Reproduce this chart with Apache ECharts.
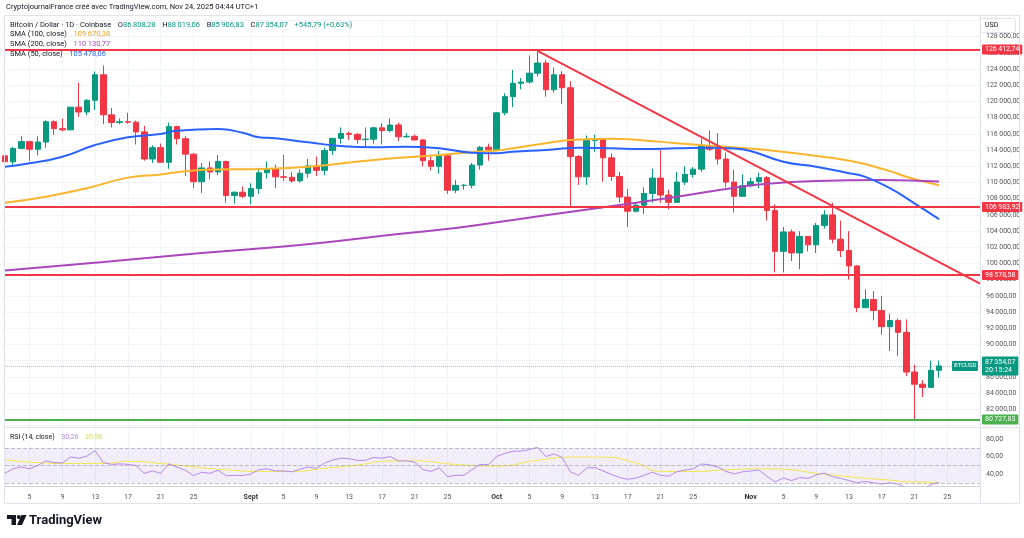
<!DOCTYPE html>
<html>
<head>
<meta charset="utf-8">
<script src="https://cdn.jsdelivr.net/npm/echarts@6/dist/echarts.min.js"></script>
<style>
html, body { margin: 0; padding: 0; background: #fff; }
#chart { width: 1024px; height: 538px; }
</style>
</head>
<body>
<div id="chart"></div>
<script>
// BTC/USD daily, Coinbase, 2 Aug -> 24 Nov 2025 : [open, high, low, close]
var ohlc = [
  [113300,114000,112000,112550],[112550,114400,112100,114200],[114200,115700,114100,115050],[115050,115100,112650,114100],
  [114100,115700,113350,115000],[115000,117700,114300,117500],[117500,117700,115900,116650],[116650,117900,116300,116500],
  [116500,119300,116500,119300],[119300,122300,118100,118700],[118700,120300,118300,120150],[120150,123700,118950,123300],
  [123300,124450,117200,118350],[118350,119200,116800,117400],[117400,117900,117200,117500],[117500,118600,117250,117450],
  [117450,117650,114700,116250],[116250,117000,112700,112900],[112900,114600,112400,114300],[114300,114800,112600,112500],
  [112500,117400,111700,116900],[116900,117000,114700,115400],[115400,115700,110800,113500],[113500,113600,109300,110100],
  [110100,112400,108700,111800],[111800,112600,110400,111300],[111300,113400,110900,112600],[112600,112700,107500,108400],
  [108400,108900,107400,108800],[108800,109500,108100,108300],
  // Sept
  [108300,109900,107300,109250],[109250,111800,108600,111200],[111200,112600,110500,111700],[111700,112200,109300,110700],
  [110700,113400,110200,110650],[110650,111300,110000,110200],[110200,111600,110000,111150],[111150,112900,110600,112050],
  [112050,113200,110800,111500],[111500,114300,110900,113950],[113950,115500,113400,115450],[115450,116800,114800,116050],
  [116050,116300,115250,115950],[115950,116100,114800,115300],[115300,116800,114400,115350],[115350,116900,114800,116750],
  [116750,117300,114700,116400],[116400,117900,116200,117100],[117100,117400,115100,115650],[115650,116100,115500,115700],
  [115700,115900,115200,115250],[115250,115400,112000,112700],[112700,113200,111500,112000],[112000,113900,111100,113300],
  [113300,113500,108600,109050],[109050,110300,108700,109650],[109650,109800,109100,109650],[109650,112400,109300,112150],
  [112150,114500,111600,114350],[114350,114800,112700,114050],
  // Oct
  [114050,118700,113950,118600],[118600,121000,118300,120600],[120600,123900,119300,122250],[122250,122900,121500,122400],
  [122400,125700,122200,123500],[123500,126200,123100,124750],[124750,125100,120600,121450],[121450,124200,121100,123300],
  [123300,123750,119700,121700],[121700,122500,106900,113200],[113200,113400,109700,110700],[110700,115800,109700,115200],
  [115200,115900,113800,115300],[115300,115300,110100,113050],[113050,113600,110200,110750],[110750,111300,107500,108200],
  [108200,109200,104500,106450],[106450,107500,106300,107200],[107200,109400,106100,108650],[108650,111700,107500,110550],
  [110550,114000,107500,108450],[108450,109100,106700,107550],[107550,111300,107500,110050],[110050,112000,109700,111000],
  [111000,111900,110600,111650],[111650,115400,111300,114550],[114550,116400,113900,114100],[114100,116100,112200,112900],
  [112900,113700,109400,110050],[110050,111600,106300,108300],[108300,111000,108300,109600],
  // Nov
  [109600,110600,109400,110100],[110100,111200,109300,110600],[110600,110800,105300,106550],[106550,107300,98900,101500],
  [101500,104500,98900,103900],[103900,104200,100300,101300],[101300,104000,99300,103350],[103350,103400,101500,102300],
  [102300,105000,101300,104700],[104700,106600,104300,106000],[106000,107500,102500,103000],[103000,105300,100800,101600],
  [101600,104000,98000,99700],[99700,99800,94000,94550],[94550,96800,94500,95550],[95550,96600,93000,94200],
  [94200,96000,91200,92200],[92200,93800,89200,92950],[92950,93200,88600,91500],[91500,93100,86100,86600],
  [86600,87500,80700,85100],[85100,85600,83500,84700],[84700,88000,84700,86808.28],[86808.28,88019.06,85906.83,87354.07]
];

var sma50 = [[0,111950],[3,112370],[7,113180],[11,114630],[15,115580],[19,115990],[21,116400],[26,116600],[29,116150],
  [31,115580],[33,115460],[37,114960],[41,114510],[45,114350],[49,114420],[53,114220],[57,113680],[60,113600],[62,113800],
  [66,114010],[70,114300],[74,114220],[78,114140],[82,114220],[86,114300],[89,114200],[91,113900],[95,112570],[99,111950],
  [103,111140],[105,110700],[108,109300],[111,107430],[114,105478.06]];
var sma100 = [[0,107500],[5,108250],[10,109300],[15,110600],[19,111000],[22,111400],[26,111600],[31,111650],[37,111950],
  [45,112780],[53,113400],[57,113730],[60,113950],[62,114220],[66,114840],[69,115250],[74,115400],[78,115200],[82,114850],
  [86,114550],[90,114250],[93,114000],[100,113150],[104,112500],[108,111400],[110,110700],[112,110150],[114,109670.38]];
var sma200 = [[0,99140],[12,100180],[24,101300],[36,102280],[48,103640],[55,104380],[62,105370],[70,106520],[77,107510],
  [82,108250],[88,109200],[92,109750],[99,110200],[107,110320],[114,110130.77]];

// RSI(14) and its moving average
var rsi = [41,46,48,46,49.7,55,53,52.6,59.5,58,60.5,66.7,53,51,51.6,51,49.7,40.7,43.6,40.7,51.6,47.9,44.3,38.2,42,40.7,44.3,37.9,38.5,38.2,
  40,45,46,43.5,43.5,42.5,45.5,48,46.5,52.5,56,58,57.5,55.5,55.7,59,58,60,55,55,53.5,45,43,47,37,38.5,38.5,45,51,50.5,
  60,63.5,66,66.3,68,70.5,60,63,59,42.5,38.5,47,47.3,43.5,39.5,36,34,35.5,38.5,42,38.5,37.5,42.5,44.5,46,51.5,50.5,48,43,40,42.5,
  43.5,44.5,37.5,31,35.5,32.5,36,35,39,41,37,35,32.5,30,31.5,30,28.5,30,28.5,24,23,22.5,28,30.26];
var rsiMa = [[0,56.4],[7,52],[12,52],[15,54.6],[19,52],[23,48.3],[27,44.7],[31,42.9],[35,42.9],[39,46.5],[43,50.2],
  [47,54.9],[50,55],[55,50.9],[60,49.1],[65,55.6],[69,59.3],[73,59.3],[77,52.7],[80,43],[84,42.9],[88,44.7],[92,46],
  [95,45.4],[99,41],[103,36.7],[107,33.8],[111,30.9],[114,30.58]];

// drawings
var resistLevels = [126412.74, 106983.92, 98578.58];
var supportLevel = 80727.83;
var trendLine = [[65,126250],[119,97520]];
var rsiBands = [70, 50, 30];

var firstDay = Date.UTC(2025, 7, 2);
var totalDays = 120;           // candles + empty space up to 29 Nov
var tickDays = [1, 5, 9, 13, 17, 21, 25];
var monthNames = {'08': 'Août', '09': 'Sept', '10': 'Oct', '11': 'Nov'};
var countdown = '20:15:24';

var dates = [];
for (var i = 0; i < totalDays; i++) {
  dates.push(new Date(firstDay + i * 86400000).toISOString().slice(0, 10));
}

var GREEN = '#089981', RED = '#f23645';
var FONT = 'Roboto, "DejaVu Sans", sans-serif';

function fr(v) {
  var s = Number(v).toFixed(2).split('.');
  s[0] = s[0].replace(/\B(?=(\d{3})+(?!\d))/g, '\u2009');
  return s[0] + ',' + s[1];
}
function isTick(index) {
  return tickDays.indexOf(+dates[index].slice(8, 10)) >= 0;
}

var last = ohlc[ohlc.length - 1];
var prevClose = ohlc[ohlc.length - 2][3];
var change = last[3] - prevClose;

var candleData = ohlc.map(function (r) { return [r[0], r[3], r[2], r[1]]; });

function levelLine(value, color) {
  return {
    yAxis: value,
    lineStyle: { color: color, width: 2, type: 'solid' },
    label: {
      show: true, position: 'end', distance: 2,
      formatter: function () { return fr(value); },
      backgroundColor: color, color: '#fff', fontSize: 7, fontFamily: FONT,
      padding: [2, 3, 1, 3], borderRadius: 1
    }
  };
}

var lineMarks = resistLevels.map(function (v) { return levelLine(v, RED); });
lineMarks.push(levelLine(supportLevel, '#4caf50'));
lineMarks.push({
  yAxis: last[3],
  lineStyle: { color: 'rgba(8, 153, 129, 0.45)', width: 1, type: 'dotted' },
  label: {
    show: true, position: 'end', distance: 2,
    formatter: function () { return fr(last[3]) + '\n' + countdown; },
    backgroundColor: GREEN, color: '#fff', fontSize: 7, lineHeight: 8, fontFamily: FONT,
    padding: [2, 3, 1, 3], borderRadius: 1
  }
});

var option = {
  animation: false,
  backgroundColor: '#fff',
  textStyle: { fontFamily: FONT },
  grid: [
    { left: 5, right: 44, top: 20.5, height: 405 },
    { left: 5, right: 44, top: 428.5, height: 57.75 }
  ],
  xAxis: [
    {
      type: 'category', gridIndex: 0, data: dates, boundaryGap: false,
      axisLine: { show: false }, axisTick: { show: false }, axisLabel: { show: false },
      splitLine: { show: true, interval: isTick, lineStyle: { color: '#f0f3fa' } }
    },
    {
      type: 'category', gridIndex: 1, data: dates, boundaryGap: false,
      axisLine: { show: true, lineStyle: { color: '#d1d4dc' } }, axisTick: { show: false },
      splitLine: { show: true, interval: isTick, lineStyle: { color: '#f0f3fa' } },
      axisLabel: {
        interval: isTick, margin: 7, fontSize: 7, color: '#555',
        formatter: function (v) {
          var day = +v.slice(8, 10);
          return day === 1 ? '{m|' + monthNames[v.slice(5, 7)] + '}' : String(day);
        },
        rich: { m: { fontSize: 7, fontWeight: 'bold', color: '#333' } }
      }
    }
  ],
  yAxis: [
    {
      type: 'value', gridIndex: 0, position: 'right', min: 80000, max: 130000, interval: 2000,
      axisLine: { show: false }, axisTick: { show: false },
      splitLine: { lineStyle: { color: '#f0f3fa' } },
      axisLabel: { fontSize: 7, color: '#555', margin: 6, showMinLabel: false, showMaxLabel: false, formatter: fr }
    },
    {
      type: 'value', gridIndex: 1, position: 'right', min: 26, max: 92, interval: 2,
      axisLine: { show: false }, axisTick: { show: false }, splitLine: { show: false },
      axisLabel: {
        fontSize: 7, color: '#555', margin: 6,
        formatter: function (v) { return (v === 40 || v === 60 || v === 80) ? fr(v) : ''; }
      }
    }
  ],
  series: [
    {
      name: 'BTCUSD', type: 'candlestick', xAxisIndex: 0, yAxisIndex: 0,
      data: candleData, barWidth: 6,
      itemStyle: { color: GREEN, color0: RED, borderColor: GREEN, borderColor0: RED, borderWidth: 1 },
      markLine: { symbol: ['none', 'none'], silent: true, animation: false, data: lineMarks }
    },
    {
      name: 'SMA 100', type: 'line', xAxisIndex: 0, yAxisIndex: 0, data: sma100, smooth: true,
      symbol: 'none', lineStyle: { color: '#fbb52d', width: 2 }, z: 3
    },
    {
      name: 'SMA 200', type: 'line', xAxisIndex: 0, yAxisIndex: 0, data: sma200, smooth: true,
      symbol: 'none', lineStyle: { color: '#ab47bc', width: 2 }, z: 3
    },
    {
      name: 'SMA 50', type: 'line', xAxisIndex: 0, yAxisIndex: 0, data: sma50, smooth: true,
      symbol: 'none', lineStyle: { color: '#2962ff', width: 2 }, z: 3
    },
    {
      name: 'Trend', type: 'line', xAxisIndex: 0, yAxisIndex: 0, data: trendLine,
      symbol: 'none', lineStyle: { color: RED, width: 2 }, z: 4, clip: false
    },
    {
      name: 'RSI', type: 'line', xAxisIndex: 1, yAxisIndex: 1, data: rsi,
      symbol: 'none', lineStyle: { color: '#b388eb', width: 1 }, z: 3,
      markArea: {
        silent: true,
        itemStyle: { color: 'rgba(126, 87, 194, 0.1)' },
        data: [[{ yAxis: rsiBands[2] }, { yAxis: rsiBands[0] }]]
      },
      markLine: {
        symbol: ['none', 'none'], silent: true, label: { show: false },
        lineStyle: { color: '#9598a1', type: 'dashed', width: 1, opacity: 0.6 },
        data: rsiBands.map(function (b) { return { yAxis: b }; })
      }
    },
    {
      name: 'RSI MA', type: 'line', xAxisIndex: 1, yAxisIndex: 1, data: rsiMa, smooth: true,
      symbol: 'none', lineStyle: { color: '#f3e84a', width: 1 }, z: 2
    }
  ]
};

var chart = echarts.init(document.getElementById('chart'));
chart.setOption(option);

// overlay: legends, frame and tags placed from the axes
var yLast = chart.convertToPixel({ yAxisIndex: 0 }, last[3]);
var xEnd = chart.convertToPixel({ xAxisIndex: 0 }, dates.length - 1);
var border = '#e0e3eb';

chart.setOption({
  graphic: [
    { id: 'frame', type: 'rect', silent: true, z: 50,
      shape: { x: 4.5, y: 15.5, width: 1015, height: 488 }, style: { fill: null, stroke: border } },
    { id: 'axisSep', type: 'line', silent: true, z: 50,
      shape: { x1: xEnd + 0.5, y1: 15.5, x2: xEnd + 0.5, y2: 503.5 }, style: { stroke: border } },
    { id: 'paneSep', type: 'line', silent: true, z: 50,
      shape: { x1: 4.5, y1: 427.5, x2: 1019.5, y2: 427.5 }, style: { stroke: border } },
    { id: 'usdBox', type: 'rect', silent: true, z: 60,
      shape: { x: 980.5, y: 18.5, width: 35, height: 14, r: 2 }, style: { fill: '#fff', stroke: border } },
    { id: 'usd', type: 'text', silent: true, z: 61, x: 985, y: 25.5,
      style: { text: 'USD', fill: '#131722', font: '7px ' + FONT, verticalAlign: 'middle' } },
    { id: 'symTag', type: 'rect', silent: true, z: 60,
      shape: { x: xEnd - 28, y: yLast - 5, width: 26, height: 10, r: 1 }, style: { fill: GREEN } },
    { id: 'symText', type: 'text', silent: true, z: 61, x: xEnd - 26, y: yLast,
      style: { text: 'BTCUSD', fill: '#fff', font: '6px ' + FONT, verticalAlign: 'middle' } },
    { id: 'title', type: 'text', silent: true, z: 60, x: 6, y: 7.5,
      style: { text: 'CryptojournalFrance créé avec TradingView.com, Nov 24, 2025 04:44 UTC+1',
               fill: '#131722', font: '7.5px ' + FONT, verticalAlign: 'middle' } },
    { id: 'legend1', type: 'text', silent: true, z: 60, x: 10, y: 25,
      style: {
        text: '{n|Bitcoin / Dollar · 1D · Coinbase}  {k|O}{v|' + fr(last[0]) + '}  {k|H}{v|' + fr(last[1]) +
              '}  {k|B}{v|' + fr(last[2]) + '}  {k|C}{v|' + fr(last[3]) + '}  {v|' + (change >= 0 ? '+' : '') + fr(change) +
              ' (' + (change >= 0 ? '+' : '') + fr(change / prevClose * 100) + '%)}',
        verticalAlign: 'middle',
        rich: {
          n: { fill: '#131722', font: '7.5px ' + FONT },
          k: { fill: '#131722', font: '7.5px ' + FONT },
          v: { fill: GREEN, font: '7.5px ' + FONT }
        }
      } },
    { id: 'legend2', type: 'text', silent: true, z: 60, x: 10, y: 34.5,
      style: { text: '{n|SMA (100, close)}  {v|' + fr(sma100[sma100.length - 1][1]) + '}', verticalAlign: 'middle',
               rich: { n: { fill: '#131722', font: '7.5px ' + FONT }, v: { fill: '#f7a21b', font: '7.5px ' + FONT } } } },
    { id: 'legend3', type: 'text', silent: true, z: 60, x: 10, y: 44,
      style: { text: '{n|SMA (200, close)}  {v|' + fr(sma200[sma200.length - 1][1]) + '}', verticalAlign: 'middle',
               rich: { n: { fill: '#131722', font: '7.5px ' + FONT }, v: { fill: '#ab47bc', font: '7.5px ' + FONT } } } },
    { id: 'legend4', type: 'text', silent: true, z: 60, x: 10, y: 54.5,
      style: { text: '{n|SMA (50, close)}  {v|' + fr(sma50[sma50.length - 1][1]) + '}', verticalAlign: 'middle',
               rich: { n: { fill: '#131722', font: '7.5px ' + FONT }, v: { fill: '#2962ff', font: '7.5px ' + FONT } } } },
    { id: 'legendRsi', type: 'text', silent: true, z: 60, x: 10, y: 437,
      style: { text: '{n|RSI (14, close)}  {a|' + fr(rsi[rsi.length - 1]) + '}  {b|' + fr(rsiMa[rsiMa.length - 1][1]) + '}',
               verticalAlign: 'middle',
               rich: { n: { fill: '#131722', font: '7px ' + FONT }, a: { fill: '#b388eb', font: '7px ' + FONT },
                       b: { fill: '#e6d83a', font: '7px ' + FONT } } } },
    { id: 'logoA', type: 'rect', silent: true, shape: { x: 7, y: 515, width: 9, height: 4 }, style: { fill: '#131722' } },
    { id: 'logoB', type: 'rect', silent: true, shape: { x: 11.5, y: 515, width: 4.5, height: 10 }, style: { fill: '#131722' } },
    { id: 'logoC', type: 'circle', silent: true, shape: { cx: 18.8, cy: 517, r: 2 }, style: { fill: '#131722' } },
    { id: 'logoD', type: 'polygon', silent: true, shape: { points: [[21.5, 515], [26.5, 515], [22, 525], [17, 525]] },
      style: { fill: '#131722' } },
    { id: 'logoText', type: 'text', silent: true, x: 29, y: 520.5,
      style: { text: 'TradingView', fill: '#131722', font: 'bold 13px ' + FONT, verticalAlign: 'middle' } }
  ]
});
</script>
</body>
</html>
